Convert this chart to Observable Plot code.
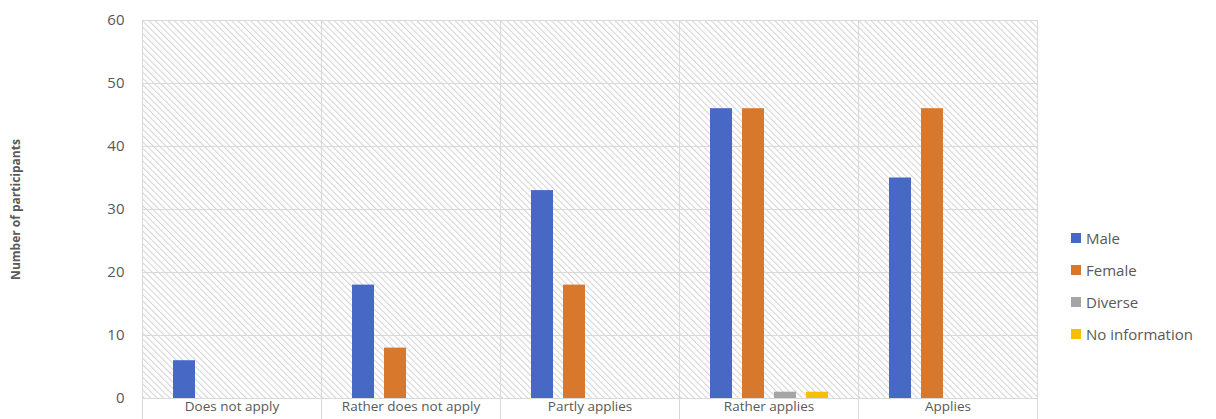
<!DOCTYPE html>
<html>
<head>
<meta charset="utf-8">
<script src="https://cdn.jsdelivr.net/npm/d3@7"></script>
<script src="https://cdn.jsdelivr.net/npm/@observablehq/plot@0.6"></script>
<style>
  body { margin: 0; background: #fff; font-family: "Open Sans", sans-serif; }
  #chart { position: relative; width: 1216px; height: 419px; overflow: hidden; }
  #chart svg [aria-label="y-axis label"] text,
  #chart svg [aria-label="y-axis label"] { font-weight: 700; font-size: 12px; fill: #595959; }
  #legend { position: absolute; left: 1071px; top: 222px; font-size: 15px; color: #595959; }
  #legend .row { display: flex; align-items: center; height: 32px; line-height: 20px; }
  #legend .sw { width: 10px; height: 10px; margin-right: 5px; }
</style>
</head>
<body>
<div id="chart"></div>
<script>
// Survey answers, counted per gender
const categories = ["Does not apply", "Rather does not apply", "Partly applies", "Rather applies", "Applies"];
const genders = ["Male", "Female", "Diverse", "No information"];
const colors = ["#4768C4", "#D8782C", "#A5A5A5", "#F5C000"];
const male = [6, 18, 33, 46, 35];
const female = [0, 8, 18, 46, 46];
const diverse = [0, 0, 0, 1, 0];
const noInformation = [0, 0, 0, 1, 0];
const yTicks = [0, 10, 20, 30, 40, 50, 60];

const series = [male, female, diverse, noInformation];
const rows = categories.flatMap((category, i) =>
  genders.map((gender, j) => ({ category, gender, count: series[j][i] }))
).filter(d => d.count > 0);

const grid = "#d9d9d9";

const chart = Plot.plot({
  width: 1216,
  height: 419,
  marginLeft: 142,
  marginRight: 179,
  marginTop: 20,
  marginBottom: 21,
  style: { fontFamily: "Open Sans, sans-serif", fontSize: "15px", color: "#595959", background: "white", overflow: "visible" },
  fx: { domain: categories, padding: 0, label: null },
  x: { domain: genders, paddingInner: 0.3125, paddingOuter: 0.95, axis: null },
  y: { domain: [0, 60], label: "Number of participants" },
  color: { domain: genders, range: colors },
  marks: [
    Plot.frame({ fill: "url(#hatch)", stroke: null }),
    Plot.gridY(yTicks, { stroke: grid, strokeOpacity: 1 }),
    Plot.frame({ stroke: grid, strokeOpacity: 1, insetBottom: -24 }),
    Plot.frame({ anchor: "top", stroke: grid, strokeOpacity: 1 }),
    Plot.frame({ anchor: "bottom", stroke: grid, strokeOpacity: 1 }),
    Plot.barY(rows, { fx: "category", x: "gender", y: "count", fill: "gender" }),
    Plot.axisY(yTicks, {
      tickSize: 0, tickPadding: 18, fontSize: 15,
      label: "Number of participants", labelAnchor: "center", labelOffset: 131, labelArrow: "none"
    }),
    Plot.axisFx({ anchor: "bottom", tickSize: 0, tickPadding: 3, fontSize: 13.5, label: null })
  ]
});

// diagonal hatching used as the plot-area background
d3.select(chart).insert("defs", ":first-child").html(`
  <pattern id="hatch" patternUnits="userSpaceOnUse" width="4.5" height="4.5" patternTransform="rotate(-45)">
    <rect width="4.5" height="4.5" fill="#ffffff"></rect>
    <rect x="0" y="0" width="1.1" height="4.5" fill="#d6d6d6"></rect>
  </pattern>`);

const container = document.getElementById("chart");
container.appendChild(chart);

const legend = document.createElement("div");
legend.id = "legend";
genders.forEach((g, i) => {
  const row = document.createElement("div");
  row.className = "row";
  const sw = document.createElement("div");
  sw.className = "sw";
  sw.style.background = colors[i];
  const label = document.createElement("span");
  label.textContent = g;
  row.append(sw, label);
  legend.appendChild(row);
});
container.appendChild(legend);
</script>
</body>
</html>
